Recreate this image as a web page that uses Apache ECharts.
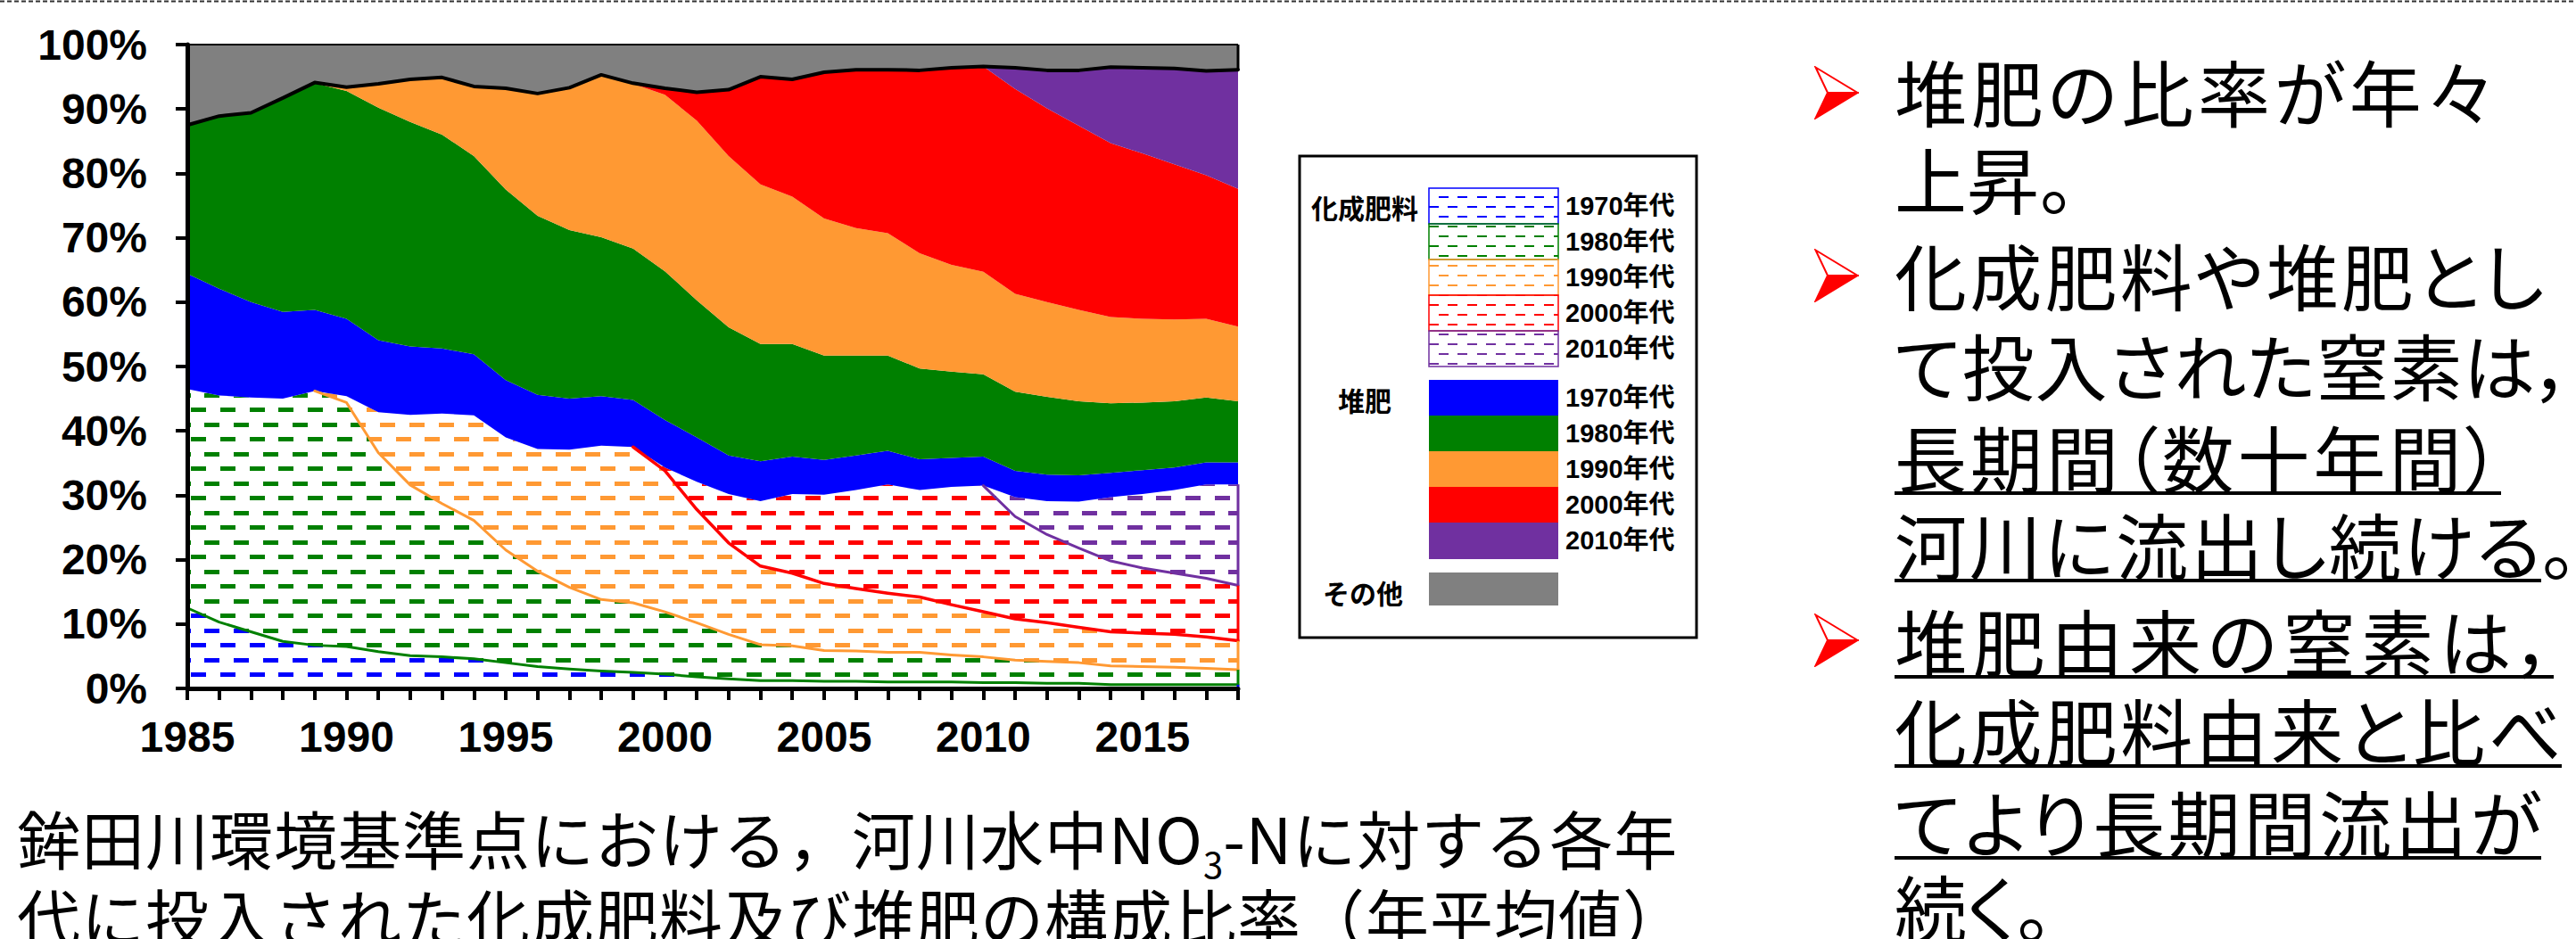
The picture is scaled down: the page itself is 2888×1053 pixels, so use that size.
<!DOCTYPE html>
<html>
<head>
<meta charset="utf-8">
<script src="https://cdn.jsdelivr.net/npm/echarts@6/dist/echarts.min.js"></script>
<style>
  html, body { margin: 0; padding: 0; background: #fff; }
  #page { position: relative; width: 2888px; height: 1053px; overflow: hidden; background: #fff; }
  #chart { position: absolute; left: 0; top: 0; width: 2888px; height: 1053px; }
  .caption { position: absolute; left: 19px; font-family: 'Noto Sans CJK JP', sans-serif; font-size: 71px; line-height: 71px; letter-spacing: 1px; white-space: nowrap; color: #000; }
  .caption sub { font-size: 40px; line-height: 0; vertical-align: -16px; letter-spacing: 0; }
  .note { position: absolute; left: 2124px; font-family: 'Noto Sans CJK JP', sans-serif; font-size: 81px; line-height: 81px; white-space: nowrap; color: #000; font-feature-settings: "palt" 1; }
  .just { text-align: left; text-align-last: justify; white-space: nowrap; }
  .ul { display: inline-block; height: 81px; border-bottom: 4px solid #000; text-align-last: justify; vertical-align: top; }
  .arrow { position: absolute; left: 2034px; width: 50px; height: 60px; }
  #topline { position: absolute; left: 0; top: 0; }
</style>
</head>
<body>
<div id="page">
  <svg id="topline" width="2888" height="4"><line x1="0" y1="1.5" x2="2888" y2="1.5" stroke="#333" stroke-width="2" stroke-dasharray="5 3"/></svg>
  <div id="chart"></div>

  <div class="caption" style="top:903px;">鉾田川環境基準点における，河川水中NO<sub>3</sub>-Nに対する各年</div>
  <div class="caption" style="top:991px;">代に投入された化成肥料及び堆肥の構成比率（年平均値）</div>

  <svg class="arrow" style="top:74px;" viewBox="0 0 50 60"><path d="M1.5,1.5 L48.5,30 L15,30 Z" fill="none" stroke="#FF0000" stroke-width="2"/><path d="M15,30 L48.5,30 L1.5,58.5 Z" fill="#FF0000" stroke="#FF0000" stroke-width="2"/></svg>
  <svg class="arrow" style="top:279px;" viewBox="0 0 50 60"><path d="M1.5,1.5 L48.5,30 L15,30 Z" fill="none" stroke="#FF0000" stroke-width="2"/><path d="M15,30 L48.5,30 L1.5,58.5 Z" fill="#FF0000" stroke="#FF0000" stroke-width="2"/></svg>
  <svg class="arrow" style="top:688px;" viewBox="0 0 50 60"><path d="M1.5,1.5 L48.5,30 L15,30 Z" fill="none" stroke="#FF0000" stroke-width="2"/><path d="M15,30 L48.5,30 L1.5,58.5 Z" fill="#FF0000" stroke="#FF0000" stroke-width="2"/></svg>

  <div class="note just" style="top:60px; width:672px;">堆肥の比率が年々</div>
  <div class="note" style="top:158px;">上昇。</div>
  <div class="note just" style="top:266px; width:728px;">化成肥料や堆肥とし</div>
  <div class="note just" style="top:367px; width:760px;">て投入された窒素は，</div>
  <div class="note" style="top:470px;"><span class="ul" style="width:680px;">長期間（数十年間）</span></div>
  <div class="note" style="top:568px;"><span class="ul" style="width:725px;">河川に流出し続ける</span>。</div>
  <div class="note" style="top:676px;"><span class="ul" style="width:739px;">堆肥由来の窒素は，</span></div>
  <div class="note" style="top:776px;"><span class="ul" style="width:748px;">化成肥料由来と比べ</span></div>
  <div class="note" style="top:879px;"><span class="ul" style="width:725px;">てより長期間流出が</span></div>
  <div class="note" style="top:974px;"><span class="ul">続く。</span></div>
</div>

<script>
// Years on the category axis
const years = ['1985','1986','1987','1988','1989','1990','1991','1992','1993','1994',
               '1995','1996','1997','1998','1999','2000','2001','2002','2003','2004',
               '2005','2006','2007','2008','2009','2010','2011','2012','2013','2014',
               '2015','2016','2017','2018'];

// Percent axis ticks
const yTicks = { min: 0, max: 100, step: 10 };

// Decade labels used in the key
const decades = ['1970年代', '1980年代', '1990年代', '2000年代', '2010年代'];

// Share of river NO3-N (%) from chemical fertilizer applied in each decade
const chem1970s = [12.5,10.3,8.8,7.3,6.7,6.5,5.7,5.1,4.9,4.6,
                   4.0,3.4,3.0,2.7,2.5,2.2,1.8,1.5,1.2,1.2,
                   1.1,1.1,1.0,1.0,1.0,0.9,0.9,0.8,0.8,0.6,
                   0.6,0.6,0.6,0.6];
const chem1980s = [34.0,35.2,36.4,37.7,39.5,37.9,30.9,26.5,23.8,21.5,
                   17.5,14.8,12.7,11.1,10.8,9.7,8.4,6.9,5.6,5.4,
                   4.8,4.7,4.6,4.6,4.2,4.0,3.5,3.4,3.2,2.9,
                   2.8,2.7,2.5,2.3];
const chem1990s = [0,0,0,0,0,1.0,6.3,10.9,14.0,16.3,
                   17.5,19.0,21.4,23.9,24.2,21.9,17.6,14.2,12.2,11.3,
                   10.4,9.7,9.2,8.6,7.8,7.0,6.4,6.0,5.5,5.3,
                   5.2,5.1,4.9,4.5];
const chem2000s = [0,0,0,0,0,0,0,0,0,0,
                   0,0,0,0,0,0.5,4.3,7.6,10.1,12.3,
                   13.8,15.3,16.9,16.6,18.3,19.6,15.9,13.7,12.3,11.0,
                   10.1,9.5,9.1,8.6];
const chem2010s = [0,0,0,0,0,0,0,0,0,0,
                   0,0,0,0,0,0,0,0,0,0,
                   0,0,0,0,0,0,3.0,5.2,7.2,9.9,
                   11.5,12.9,14.6,15.7];

// Share (%) from compost applied in each decade
const comp1970s = [17.9,16.6,14.8,13.5,12.6,12.0,11.2,10.6,10.1,9.5,
                   8.9,8.4,7.9,7.7,7.3,7.4,6.9,6.0,6.2,5.8,
                   5.4,5.4,5.2,4.8,4.5,4.5,4.1,4.1,4.1,3.8,
                   3.7,3.5,3.4,3.4];
const comp1980s = [23.1,26.8,29.4,33.2,35.2,35.4,36.1,34.9,33.2,30.8,
                   29.6,27.8,26.2,24.7,23.5,23.1,21.3,19.9,18.2,17.5,
                   16.2,15.5,14.8,14.1,13.4,12.8,12.3,12.1,11.5,10.8,
                   10.5,10.3,10.1,9.5];
const comp1990s = [0,0,0,0,0.1,0.6,3.7,6.6,8.9,10.8,
                   15.7,19.0,22.1,25.2,25.6,27.4,27.9,26.6,24.8,22.9,
                   21.3,19.8,19.0,17.9,16.6,15.9,15.2,14.7,14.2,13.4,
                   13.0,12.7,12.2,11.6];
const comp2000s = [0,0,0,0,0,0,0,0,0,0,
                   0,0,0,0,0.1,1.0,4.4,10.3,16.7,18.2,
                   22.7,24.6,25.4,28.4,30.6,31.9,31.8,30.1,28.6,27.0,
                   25.7,24.1,22.3,21.4];
const comp2010s = [0,0,0,0,0,0,0,0,0,0,
                   0,0,0,0,0,0,0,0,0,0,
                   0,0,0,0,0,0,3.3,5.9,8.6,11.8,
                   13.3,14.9,16.2,18.5];

// Remaining share (その他)
const others = [12.5,11.1,10.6,8.3,5.9,6.6,6.1,5.4,5.1,6.5,
                6.8,7.6,6.7,4.7,6.0,6.8,7.4,7.0,5.0,5.4,
                4.3,3.9,3.9,4.0,3.6,3.4,3.6,4.0,4.0,3.5,
                3.6,3.7,4.1,3.9];

// ---------- styling ----------
const decadeColors = ['#0000FF', '#008000', '#FF9933', '#FF0000', '#7030A0'];
const otherColor = '#808080';
const LATIN_CJK = "'Liberation Sans', 'Noto Sans CJK JP', sans-serif";

// Horizontal dashed hatch tile, anchored to the page origin
function dashTile(color, w, h, rows) {
  const c = document.createElement('canvas');
  c.width = w; c.height = h;
  const g = c.getContext('2d');
  g.fillStyle = color;
  rows.forEach(r => {
    for (let k = -4; k <= 12; k++) {
      g.fillRect(Math.round(r.x0 + k * r.period), r.y, r.len, r.thick);
    }
  });
  return { image: c, repeat: 'repeat', imageWidth: w, imageHeight: h };
}
const plotHatch = color => dashTile(color, 164, 33, [
  { x0: 65.3, period: 32.8, y: 12, len: 17, thick: 5 },
  { x0: 82.7, period: 32.8, y: 28, len: 17, thick: 5 }
]);
const keyHatch = color => dashTile(color, 43, 22, [
  { x0: 0, period: 21.5, y: 0, len: 11, thick: 2 },
  { x0: 10.75, period: 21.5, y: 11, len: 11, thick: 2 }
]);

const chemData = [chem1970s, chem1980s, chem1990s, chem2000s, chem2010s];
const compData = [comp1970s, comp1980s, comp1990s, comp2000s, comp2010s];
const stackOrder = chemData.concat(compData, [others]);

// running totals for the border lines
const cum = [];
stackOrder.forEach((arr, k) => {
  cum.push(arr.map((v, i) => Math.round(((k ? cum[k - 1][i] : 0) + v) * 100) / 100));
});
const n = years.length;

function areaSeries(name, data, fill, line) {
  return {
    name, type: 'line', stack: 'total', data,
    symbol: 'none', showSymbol: false, smooth: false, silent: true,
    lineStyle: line || { width: 0, opacity: 0 },
    areaStyle: { color: fill, opacity: 1 },
    z: 2
  };
}
function borderLine(data, color, width) {
  return {
    type: 'line', data, symbol: 'none', showSymbol: false, silent: true,
    connectNulls: false, smooth: false,
    lineStyle: { color, width, join: 'round', cap: 'round' },
    z: 5
  };
}
// the border of a decade's layer begins one year before that layer appears
function fromStart(totals, layer) {
  const first = layer.findIndex(v => v > 0);
  const s = Math.max(0, first - 1);
  return totals.map((v, i) => (i >= s ? v : null));
}
function rightEdge(y0, y1, color, width) {
  return {
    type: 'line', data: [[years[n - 1], y0], [years[n - 1], y1]],
    symbol: 'none', silent: true, clip: false,
    lineStyle: { color, width }, z: 5
  };
}

const series = [];
chemData.forEach((d, k) => series.push(areaSeries('化成肥料 ' + decades[k], d, plotHatch(decadeColors[k]))));
compData.forEach((d, k) => series.push(areaSeries('堆肥 ' + decades[k], d, decadeColors[k])));
series.push(areaSeries('その他', others, otherColor, { color: '#000', width: 2 }));

series.push(borderLine(cum[0], decadeColors[1], 3));
series.push(borderLine(fromStart(cum[1], chem1990s), decadeColors[2], 3));
series.push(borderLine(fromStart(cum[2], chem2000s), decadeColors[3], 3.5));
series.push(borderLine(fromStart(cum[3], chem2010s), decadeColors[4], 3));
series.push(borderLine(cum[9], '#000', 4));

series.push(rightEdge(0, cum[0][n - 1], decadeColors[0], 3));
series.push(rightEdge(cum[0][n - 1], cum[1][n - 1], decadeColors[1], 3));
series.push(rightEdge(cum[1][n - 1], cum[2][n - 1], decadeColors[2], 3));
series.push(rightEdge(cum[2][n - 1], cum[3][n - 1], decadeColors[3], 3));
series.push(rightEdge(cum[3][n - 1], cum[4][n - 1], decadeColors[4], 3));
series.push(rightEdge(cum[9][n - 1], cum[10][n - 1], '#000', 3));

// ---------- key (boxed legend) ----------
const key = [];
key.push({ type: 'rect', z: 20, shape: { x: 1457, y: 175, width: 445, height: 540 },
           style: { fill: '#fff', stroke: '#000', lineWidth: 3 } });
const keyX = 1602, keyW = 145, rowH = 40;
const chemTop = 211, compTop = 426, otherTop = 642;
decades.forEach((label, k) => {
  key.push({ type: 'rect', z: 21, shape: { x: keyX, y: chemTop + k * rowH, width: keyW, height: rowH },
             style: { fill: keyHatch(decadeColors[k]), stroke: decadeColors[k], lineWidth: 1.5 } });
  key.push({ type: 'text', z: 22, x: 1755, y: chemTop + k * rowH + rowH / 2,
             style: { text: label, fill: '#000', font: 'bold 29px ' + LATIN_CJK,
                      align: 'left', verticalAlign: 'middle', textAlign: 'left', textVerticalAlign: 'middle' } });
  key.push({ type: 'rect', z: 21, shape: { x: keyX, y: compTop + k * rowH, width: keyW, height: rowH + (k === 4 ? 1 : 0.5) },
             style: { fill: decadeColors[k] } });
  key.push({ type: 'text', z: 22, x: 1755, y: compTop + k * rowH + rowH / 2,
             style: { text: label, fill: '#000', font: 'bold 29px ' + LATIN_CJK,
                      align: 'left', verticalAlign: 'middle', textAlign: 'left', textVerticalAlign: 'middle' } });
});
key.push({ type: 'rect', z: 21, shape: { x: keyX, y: otherTop, width: keyW, height: 37 }, style: { fill: otherColor } });
[['化成肥料', 1530, 234], ['堆肥', 1530, 450], ['その他', 1528, 666]].forEach(([t, x, y]) => {
  key.push({ type: 'text', z: 22, x, y,
             style: { text: t, fill: '#000', font: 'bold 30px ' + LATIN_CJK,
                      align: 'center', verticalAlign: 'middle', textAlign: 'center', textVerticalAlign: 'middle' } });
});

const chart = echarts.init(document.getElementById('chart'), null, { renderer: 'svg', width: 2888, height: 1053 });
chart.setOption({
  animation: false,
  backgroundColor: 'transparent',
  grid: { left: 210, top: 50, width: 1178, height: 722, containLabel: false, outerBoundsMode: 'none' },
  xAxis: {
    type: 'category', data: years, boundaryGap: false, z: 10,
    axisLine: { show: true, onZero: false, lineStyle: { color: '#000', width: 5 } },
    axisTick: { show: true, interval: 0, length: 13, lineStyle: { color: '#000', width: 4 } },
    axisLabel: { interval: (idx) => idx % 5 === 0, hideOverlap: false, margin: 30, color: '#000',
                 fontSize: 48, fontWeight: 'bold', fontFamily: 'Liberation Sans' },
    splitLine: { show: false }
  },
  yAxis: {
    type: 'value', min: yTicks.min, max: yTicks.max, interval: yTicks.step, z: 10,
    axisLine: { show: true, lineStyle: { color: '#000', width: 5 } },
    axisTick: { show: true, length: 13, lineStyle: { color: '#000', width: 4 } },
    axisLabel: { formatter: '{value}%', margin: 45, color: '#000',
                 fontSize: 48, fontWeight: 'bold', fontFamily: 'Liberation Sans' },
    splitLine: { show: false }
  },
  series,
  graphic: key
});
</script>
</body>
</html>
